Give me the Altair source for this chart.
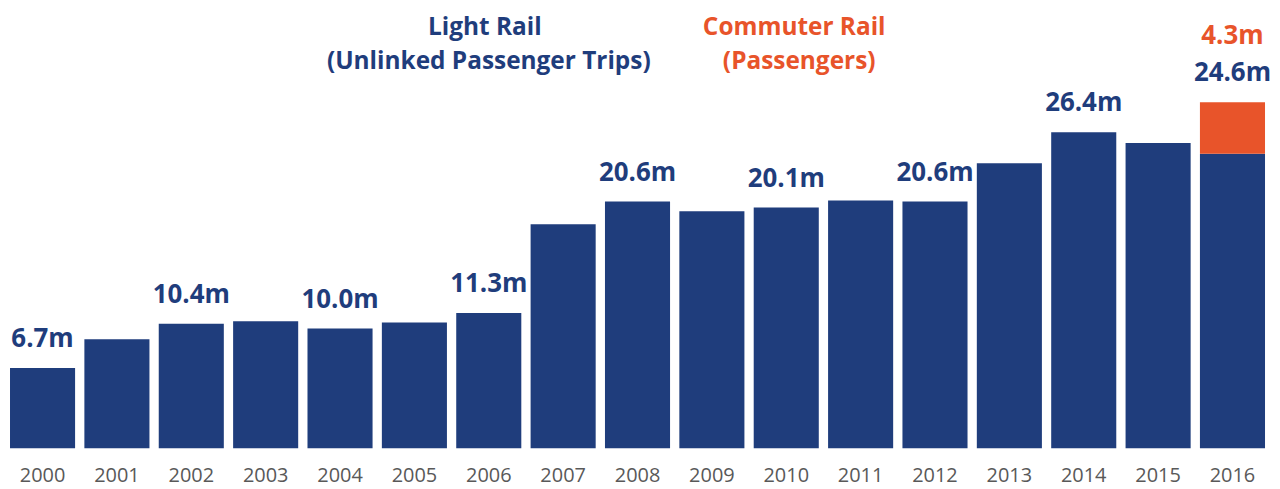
import altair as alt
import pandas as pd

years = ["2000", "2001", "2002", "2003", "2004", "2005", "2006", "2007", "2008",
         "2009", "2010", "2011", "2012", "2013", "2014", "2015", "2016"]
light_rail = [6.7, 9.1, 10.4, 10.6, 10.0, 10.5, 11.3, 18.7, 20.6,
              19.8, 20.1, 20.7, 20.6, 23.8, 26.4, 25.5, 24.6]
commuter_rail = [0, 0, 0, 0, 0, 0, 0, 0, 0, 0, 0, 0, 0, 0, 0, 0, 4.3]
light_labels = ["6.7m", "", "10.4m", "", "10.0m", "", "11.3m", "", "20.6m",
                "", "20.1m", "", "20.6m", "", "26.4m", "", "24.6m"]
commuter_labels = ["", "", "", "", "", "", "", "", "", "", "", "", "", "", "", "", "4.3m"]
title_text = ["Light Rail", "(Unlinked Passenger Trips)", "Commuter Rail", "(Passengers)"]
title_anchor = ["2006", "2006", "2010", "2010"]

BLUE = "#1f3d7c"
ORANGE = "#e8542a"
GRAY = "#595959"
FONT = "Open Sans"

df = pd.DataFrame({
    "year": years,
    "light": light_rail,
    "commuter": commuter_rail,
    "light_label": light_labels,
    "commuter_label": commuter_labels,
})
df["total"] = df["light"] + df["commuter"]

x = alt.X("year:N", sort=years,
          scale=alt.Scale(domain=years, paddingInner=0.125, paddingOuter=0.027),
          axis=alt.Axis(title=None, ticks=False, domain=False, labelAngle=0,
                        labelFont=FONT, labelFontSize=20, labelColor=GRAY,
                        labelPadding=17))
yscale = alt.Scale(domain=[0, 36.69], nice=False, zero=True)

base = alt.Chart(df)

light_bars = base.mark_bar(color=BLUE).encode(
    x=x,
    y=alt.Y("light:Q", scale=yscale, axis=None),
)
comm_bars = base.transform_filter("datum.commuter > 0").mark_bar(color=ORANGE).encode(
    x=x,
    y=alt.Y("light:Q", scale=yscale, axis=None),
    y2="total:Q",
)
light_text = base.transform_filter("datum.light_label != ''").mark_text(
    font=FONT, fontSize=26, fontWeight="bold", color=BLUE, baseline="middle", dy=-29
).encode(
    x=x,
    y=alt.Y("total:Q", scale=yscale, axis=None),
    text="light_label:N",
)
comm_text = base.transform_filter("datum.commuter_label != ''").mark_text(
    font=FONT, fontSize=26, fontWeight="bold", color=ORANGE, baseline="middle", dy=-66
).encode(
    x=x,
    y=alt.Y("total:Q", scale=yscale, axis=None),
    text="commuter_label:N",
)

title_df = pd.DataFrame({"year": title_anchor, "line": title_text})


def title_mark(i, color, dx, y):
    return alt.Chart(title_df.iloc[[i]]).mark_text(
        font=FONT, fontSize=24.5, fontWeight="bold", color=color,
        baseline="middle", dx=dx
    ).encode(
        x=x,
        y=alt.value(y),
        text="line:N",
    )


titles = [title_mark(0, BLUE, -4, 19), title_mark(1, BLUE, 0, 53),
          title_mark(2, ORANGE, 8, 19), title_mark(3, ORANGE, 13, 53)]

chart = alt.layer(light_bars, comm_bars, light_text, comm_text, *titles).properties(
    width=1264, height=441,
    padding={"left": 0, "top": 0, "right": 0, "bottom": 2}
).configure_view(stroke=None)

chart.save("out.html", embed_options={"renderer": "svg", "actions": False})
